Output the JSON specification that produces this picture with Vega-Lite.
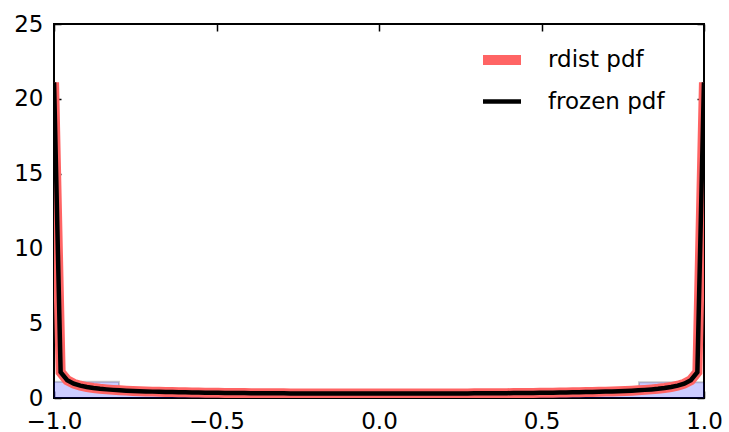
{
  "$schema": "https://vega.github.io/schema/vega-lite/v6.json",
  "width": 650,
  "height": 374,
  "autosize": "none",
  "padding": {"left": 54, "top": 24, "right": 25, "bottom": 34},
  "background": "white",
  "config": {
    "view": {"stroke": "black", "strokeWidth": 2},
    "font": "DejaVu Sans",
    "axis": {
      "domain": false,
      "grid": false,
      "tickColor": "black",
      "tickWidth": 1.5,
      "tickSize": -7,
      "labelFont": "DejaVu Sans",
      "labelFontSize": 23,
      "labelColor": "black",
      "labelFlush": false,
      "labelOverlap": false,
      "labelBound": false,
      "title": null
    },
    "legend": {
      "labelFont": "DejaVu Sans",
      "labelFontSize": 23,
      "labelColor": "black"
    }
  },
  "datasets": {
    "hist": [
      {"edge": -1.0, "density": 1.08},
      {"edge": -0.8, "density": 0.45},
      {"edge": -0.6, "density": 0.35},
      {"edge": -0.4, "density": 0.31},
      {"edge": -0.2, "density": 0.30},
      {"edge": 0.0, "density": 0.29},
      {"edge": 0.2, "density": 0.31},
      {"edge": 0.4, "density": 0.36},
      {"edge": 0.6, "density": 0.43},
      {"edge": 0.8, "density": 1.06},
      {"edge": 1.0, "density": 1.06}
    ],
    "pdf": [
      {"x": -0.9998, "y": 21.10}, {"x": -0.9796, "y": 1.7269}, {"x": -0.9594, "y": 1.1896}, {"x": -0.9392, "y": 0.9582},
      {"x": -0.9190, "y": 0.8231}, {"x": -0.8988, "y": 0.7325}, {"x": -0.8786, "y": 0.6666}, {"x": -0.8584, "y": 0.6162},
      {"x": -0.8382, "y": 0.5761}, {"x": -0.8180, "y": 0.5433}, {"x": -0.7978, "y": 0.5159}, {"x": -0.7776, "y": 0.4926},
      {"x": -0.7574, "y": 0.4726}, {"x": -0.7372, "y": 0.4551}, {"x": -0.7170, "y": 0.4398}, {"x": -0.6968, "y": 0.4262},
      {"x": -0.6766, "y": 0.4140}, {"x": -0.6564, "y": 0.4032}, {"x": -0.6362, "y": 0.3933}, {"x": -0.6160, "y": 0.3844},
      {"x": -0.5958, "y": 0.3763}, {"x": -0.5756, "y": 0.3690}, {"x": -0.5554, "y": 0.3622}, {"x": -0.5352, "y": 0.3560},
      {"x": -0.5150, "y": 0.3503}, {"x": -0.4948, "y": 0.3451}, {"x": -0.4746, "y": 0.3402}, {"x": -0.4544, "y": 0.3358},
      {"x": -0.4342, "y": 0.3317}, {"x": -0.4140, "y": 0.3279}, {"x": -0.3939, "y": 0.3244}, {"x": -0.3737, "y": 0.3212},
      {"x": -0.3535, "y": 0.3182}, {"x": -0.3333, "y": 0.3155}, {"x": -0.3131, "y": 0.3129}, {"x": -0.2929, "y": 0.3106},
      {"x": -0.2727, "y": 0.3085}, {"x": -0.2525, "y": 0.3066}, {"x": -0.2323, "y": 0.3048}, {"x": -0.2121, "y": 0.3032},
      {"x": -0.1919, "y": 0.3018}, {"x": -0.1717, "y": 0.3006}, {"x": -0.1515, "y": 0.2995}, {"x": -0.1313, "y": 0.2985},
      {"x": -0.1111, "y": 0.2977}, {"x": -0.0909, "y": 0.2970}, {"x": -0.0707, "y": 0.2965}, {"x": -0.0505, "y": 0.2961},
      {"x": -0.0303, "y": 0.2958}, {"x": -0.0101, "y": 0.2957},
      {"x": 0.0101, "y": 0.2957}, {"x": 0.0303, "y": 0.2958}, {"x": 0.0505, "y": 0.2961}, {"x": 0.0707, "y": 0.2965},
      {"x": 0.0909, "y": 0.2970}, {"x": 0.1111, "y": 0.2977}, {"x": 0.1313, "y": 0.2985}, {"x": 0.1515, "y": 0.2995},
      {"x": 0.1717, "y": 0.3006}, {"x": 0.1919, "y": 0.3018}, {"x": 0.2121, "y": 0.3032}, {"x": 0.2323, "y": 0.3048},
      {"x": 0.2525, "y": 0.3066}, {"x": 0.2727, "y": 0.3085}, {"x": 0.2929, "y": 0.3106}, {"x": 0.3131, "y": 0.3129},
      {"x": 0.3333, "y": 0.3155}, {"x": 0.3535, "y": 0.3182}, {"x": 0.3737, "y": 0.3212}, {"x": 0.3939, "y": 0.3244},
      {"x": 0.4140, "y": 0.3279}, {"x": 0.4342, "y": 0.3317}, {"x": 0.4544, "y": 0.3358}, {"x": 0.4746, "y": 0.3402},
      {"x": 0.4948, "y": 0.3451}, {"x": 0.5150, "y": 0.3503}, {"x": 0.5352, "y": 0.3560}, {"x": 0.5554, "y": 0.3622},
      {"x": 0.5756, "y": 0.3690}, {"x": 0.5958, "y": 0.3763}, {"x": 0.6160, "y": 0.3844}, {"x": 0.6362, "y": 0.3933},
      {"x": 0.6564, "y": 0.4032}, {"x": 0.6766, "y": 0.4140}, {"x": 0.6968, "y": 0.4262}, {"x": 0.7170, "y": 0.4398},
      {"x": 0.7372, "y": 0.4551}, {"x": 0.7574, "y": 0.4726}, {"x": 0.7776, "y": 0.4926}, {"x": 0.7978, "y": 0.5159},
      {"x": 0.8180, "y": 0.5433}, {"x": 0.8382, "y": 0.5761}, {"x": 0.8584, "y": 0.6162}, {"x": 0.8786, "y": 0.6666},
      {"x": 0.8988, "y": 0.7325}, {"x": 0.9190, "y": 0.8231}, {"x": 0.9392, "y": 0.9582}, {"x": 0.9594, "y": 1.1896},
      {"x": 0.9796, "y": 1.7269}, {"x": 0.9998, "y": 21.10}
    ]
  },
  "resolve": {"axis": {"x": "independent", "y": "independent"}},
  "layer": [
    {
      "data": {"name": "hist"},
      "mark": {"type": "area", "interpolate": "step-after", "color": "#0000ff", "opacity": 0.2},
      "encoding": {
        "x": {"field": "edge", "type": "quantitative", "scale": {"domain": [-1, 1], "nice": false, "zero": false},
              "axis": {"orient": "bottom", "values": [-1, -0.5, 0, 0.5, 1], "format": ".1f", "labelPadding": 19}},
        "y": {"field": "density", "type": "quantitative", "scale": {"domain": [0, 25], "nice": false},
              "axis": {"orient": "left", "values": [0, 5, 10, 15, 20, 25], "format": "d", "labelPadding": 18}}
      }
    },
    {
      "data": {"name": "hist"},
      "mark": {"type": "line", "interpolate": "step-after", "color": "black", "opacity": 0.2, "strokeWidth": 2},
      "encoding": {
        "x": {"field": "edge", "type": "quantitative", "axis": null},
        "y": {"field": "density", "type": "quantitative", "axis": null}
      }
    },
    {
      "data": {"name": "pdf"},
      "mark": {"type": "line", "clip": true},
      "encoding": {
        "x": {"field": "x", "type": "quantitative", "axis": null},
        "y": {"field": "y", "type": "quantitative", "axis": null},
        "color": {"datum": "rdist pdf", "type": "nominal",
                  "scale": {"domain": ["rdist pdf", "frozen pdf"], "range": ["#ff6464", "#000000"]},
                  "legend": {"orient": "none", "legendX": 424, "legendY": 12, "title": null,
                             "symbolType": "stroke", "symbolSize": 1444, "rowPadding": 0, "labelOffset": 22,
                             "symbolOpacity": 1}},
        "strokeWidth": {"datum": "rdist pdf", "type": "nominal",
                        "scale": {"domain": ["rdist pdf", "frozen pdf"], "range": [10, 4.5]},
                        "legend": {"orient": "none", "legendX": 424, "legendY": 12, "title": null,
                                   "symbolType": "stroke", "symbolSize": 1444, "rowPadding": 0, "labelOffset": 22}}
      }
    },
    {
      "data": {"name": "pdf"},
      "mark": {"type": "line", "clip": true},
      "encoding": {
        "x": {"field": "x", "type": "quantitative",
              "axis": {"orient": "top", "values": [-1, -0.5, 0, 0.5, 1], "labels": false}},
        "y": {"field": "y", "type": "quantitative",
              "axis": {"orient": "right", "values": [0, 5, 10, 15, 20, 25], "labels": false}},
        "color": {"datum": "frozen pdf", "type": "nominal"},
        "strokeWidth": {"datum": "frozen pdf", "type": "nominal"}
      }
    }
  ]
}
